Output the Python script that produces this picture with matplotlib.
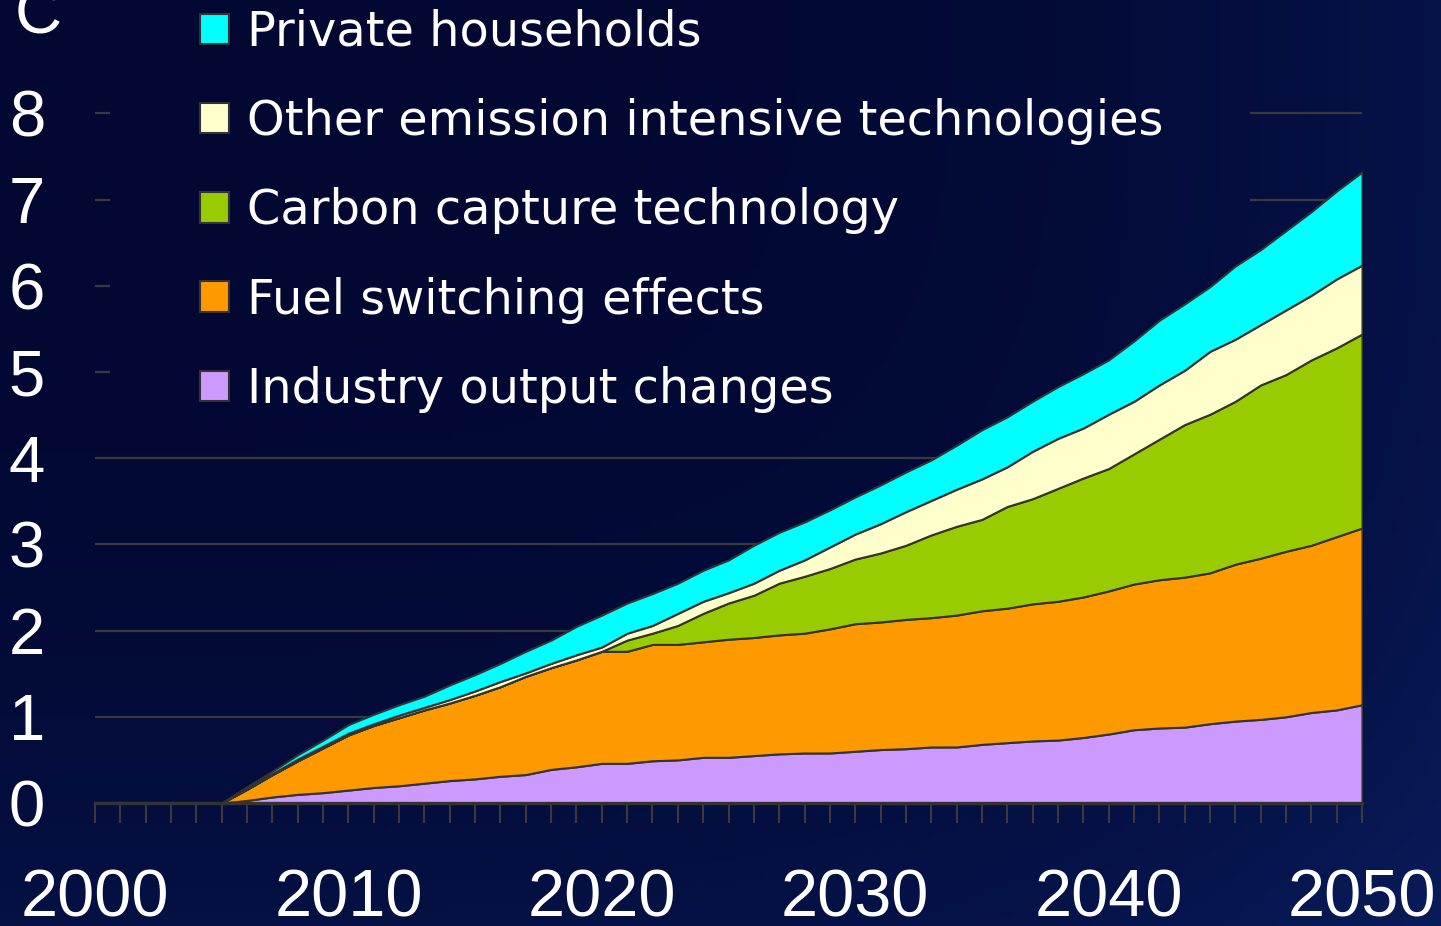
import numpy as np
import matplotlib
matplotlib.use("Agg")
import matplotlib.pyplot as plt
from matplotlib.patches import Patch, Rectangle
from matplotlib.ticker import FixedLocator, FuncFormatter

# ---------------- data ----------------
years = list(range(2000, 2051))
industry = [0] * 6 + [
    0.03, 0.07, 0.10, 0.12, 0.15, 0.18, 0.20, 0.23, 0.26, 0.28,
    0.31, 0.33, 0.39, 0.42, 0.46, 0.46, 0.49, 0.50, 0.53, 0.53,
    0.55, 0.57, 0.58, 0.58, 0.60, 0.62, 0.63, 0.65, 0.65, 0.68,
    0.70, 0.72, 0.73, 0.76, 0.80, 0.85, 0.87, 0.88, 0.92, 0.95,
    0.97, 1.00, 1.05, 1.08, 1.14]
fuel = [0] * 6 + [
    0.13, 0.26, 0.39, 0.52, 0.64, 0.72, 0.79, 0.85, 0.90, 0.97,
    1.04, 1.14, 1.18, 1.24, 1.30, 1.30, 1.35, 1.34, 1.34, 1.37,
    1.37, 1.38, 1.39, 1.44, 1.48, 1.48, 1.50, 1.50, 1.53, 1.55,
    1.56, 1.59, 1.61, 1.63, 1.66, 1.69, 1.72, 1.74, 1.75, 1.82,
    1.87, 1.92, 1.94, 2.01, 2.05]
carbon = [0] * 21 + [
    0.13, 0.13, 0.22, 0.33, 0.42,
    0.49, 0.60, 0.66, 0.70, 0.75, 0.80, 0.86, 0.96, 1.03, 1.06,
    1.18, 1.22, 1.31, 1.38, 1.42, 1.51, 1.63, 1.77, 1.84, 1.89,
    2.01, 2.05, 2.15, 2.19, 2.25]
other = [0] * 6 + [
    0.01, 0.01, 0.02, 0.02, 0.02, 0.02, 0.03, 0.03, 0.04, 0.05,
    0.06, 0.04, 0.05, 0.06, 0.05, 0.08, 0.09, 0.14, 0.14, 0.12,
    0.14, 0.15, 0.19, 0.25, 0.29, 0.34, 0.39, 0.40, 0.43, 0.47,
    0.46, 0.55, 0.58, 0.58, 0.63, 0.61, 0.63, 0.63, 0.73, 0.72,
    0.70, 0.75, 0.75, 0.80, 0.80]
private = [0] * 6 + [
    0.02, 0.03, 0.05, 0.07, 0.10, 0.11, 0.12, 0.13, 0.17, 0.19,
    0.21, 0.25, 0.27, 0.33, 0.37, 0.35, 0.37, 0.35, 0.36, 0.38,
    0.44, 0.44, 0.44, 0.43, 0.43, 0.45, 0.46, 0.47, 0.51, 0.57,
    0.58, 0.58, 0.60, 0.63, 0.63, 0.70, 0.75, 0.77, 0.75, 0.85,
    0.87, 0.92, 0.97, 1.02, 1.08]

series_labels = ["Industry output changes", "Fuel switching effects",
                 "Carbon capture technology",
                 "Other emission intensive technologies",
                 "Private households"]
series_colors = ["#CC99FF", "#FF9900", "#99CC00", "#FFFFCC", "#00FFFF"]
y_ticks = [0, 1, 2, 3, 4, 5, 6, 7, 8]
x_label_years = [2000, 2010, 2020, 2030, 2040, 2050]

# ---------------- figure ----------------
W, H = 1441, 926
fig = plt.figure(figsize=(W / 100, H / 100), dpi=100)

# background gradient (dark navy, lighter towards bottom / right)
gx, gy = np.meshgrid(np.linspace(0, 1, 300), np.linspace(0, 1, 200))
c_dark = np.array([2, 8, 50]) / 255.0
c_light = np.array([9, 27, 90]) / 255.0
t = np.clip(0.45 * gy ** 3 + 0.55 * gx ** 4, 0, 1)
img = c_dark[None, None, :] * (1 - t[..., None]) + c_light[None, None, :] * t[..., None]

bg_ax = fig.add_axes([0, 0, 1, 1], zorder=-10)
bg_ax.imshow(img, aspect="auto", extent=[0, 1, 0, 1], origin="upper")
bg_ax.set_axis_off()

ax = fig.add_axes([95 / W, (H - 803) / H, 1267 / W, 803 / H])
ax.set_facecolor("none")
ax.set_axisbelow(True)

ax.stackplot(years, industry, fuel, carbon, other, private,
             colors=series_colors, edgecolor="#333333", linewidth=1.5,
             zorder=2)

# area behind the legend hides the gridlines (same background image, clipped)
mask = Rectangle((15 / 1267, (803 - 420) / 803), 1140 / 1267, 420 / 803,
                 transform=ax.transAxes, facecolor="none", edgecolor="none")
ax.add_patch(mask)
mask_img = ax.imshow(img, aspect="auto", extent=[0, 1, 0, 1], origin="upper",
                     transform=fig.transFigure, zorder=1)
mask_img.set_clip_path(mask)

ax.set_xlim(2000, 2050)
ax.set_ylim(0, 803 / 86.2)
ax.set_aspect("auto")

# axes styling
for s in ["left", "top", "right"]:
    ax.spines[s].set_visible(False)
ax.spines["bottom"].set_color("#333333")
ax.spines["bottom"].set_linewidth(2.4)
ax.spines["bottom"].set_zorder(3)

ax.set_yticks(y_ticks)
ax.yaxis.grid(True, color="#3a3a3a", linewidth=1.6)
ax.tick_params(axis="y", length=0, pad=36, labelsize=47, labelcolor="white")

ax.xaxis.set_major_locator(FixedLocator(years))
ax.xaxis.set_major_formatter(FuncFormatter(
    lambda v, p: str(int(v)) if int(round(v)) in x_label_years else ""))
ax.tick_params(axis="x", direction="out", length=14.5, width=1.5,
               color="#3a3a3a", pad=33, labelsize=48, labelcolor="white")
for lab in ax.get_xticklabels() + ax.get_yticklabels():
    lab.set_fontfamily("Liberation Sans")

# cut-off unit label at the top-left
fig.text(15 / W, 1 - 34 / H, "C", fontsize=47, color="white",
         family="Liberation Sans", ha="left", va="baseline")

# legend
handles = [Patch(facecolor=c, edgecolor="#333333", linewidth=1.5)
           for c in series_colors][::-1]
leg = fig.legend(handles, series_labels[::-1], loc="upper left",
                 bbox_to_anchor=(200 / W, 1 - 9 / H), frameon=False,
                 borderpad=0, borderaxespad=0,
                 prop={"family": "DejaVu Sans", "size": 34.5},
                 labelcolor="white", handlelength=0.6, handleheight=0.6,
                 handletextpad=0.38, labelspacing=0.88)

fig.savefig("out.png", dpi=100)
